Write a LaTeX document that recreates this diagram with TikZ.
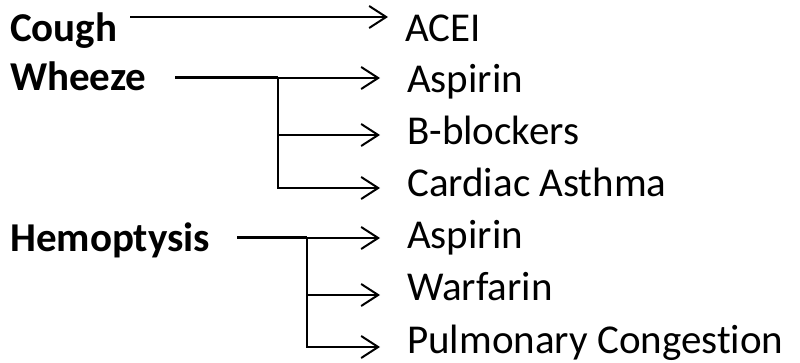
\documentclass[tikz,border=0pt]{standalone}
\usepackage{fontspec}
\setmainfont{Carlito}[Ligatures={NoCommon}]
\usetikzlibrary{arrows.meta}
\begin{document}
\begin{tikzpicture}[x=1pt,y=-1pt,
  lbl/.style={anchor=base west,inner sep=0pt,font=\fontsize{41}{48}\selectfont\bfseries},
  res/.style={anchor=base west,inner sep=0pt,font=\fontsize{41}{48}\selectfont},
  conn/.style={line width=2pt,-{Straight Barb[length=17pt,width=22pt,line width=2pt]}},
  trunk/.style={line width=3pt}]
\useasboundingbox (0,0) rectangle (800,363);
% left labels
\node[lbl] (cough) at (10,42) {Cough};
\node[lbl] (wheeze) at (10,91) {Wheeze};
\node[lbl] (hemo) at (10,252) {Hemoptysis};
% right labels
\node[res] (acei) at (405,42) {ACEI};
\node[res] (asp1) at (407,93) {Aspirin};
\node[res] (bb) at (407,145) {B-blockers};
\node[res] (card) at (407,197) {Cardiac Asthma};
\node[res] (asp2) at (407,249) {Aspirin};
\node[res] (warf) at (407,301) {Warfarin};
\node[res] (pulm) at (407,353) {Pulmonary Congestion};
% coordinates
\coordinate (c0) at (130,17);
\coordinate (c1) at (388,17);
\coordinate (w0) at (175,78);
\coordinate (wj) at (278,78);
\coordinate (w1) at (380,78);
\coordinate (wb) at (278,135);
\coordinate (wb1) at (380,135);
\coordinate (wc) at (278,188);
\coordinate (wc1) at (380,188);
\coordinate (h0) at (237,238);
\coordinate (hj) at (307,238);
\coordinate (h1) at (380,238);
\coordinate (hw) at (307,295);
\coordinate (hw1) at (380,295);
\coordinate (hp) at (307,347);
\coordinate (hp1) at (380,347);
% connectors
\draw[conn] (c0) -- (c1);
\draw[trunk] (w0) -- (wj);
\draw[conn] (wj) -- (w1);
\draw[line width=2pt] (wj) -- (wc);
\draw[conn] (wb) -- (wb1);
\draw[conn] ([xshift=-1pt]wc) -- (wc1);
\draw[trunk] (h0) -- (hj);
\draw[conn] (hj) -- (h1);
\draw[line width=2pt] (hj) -- (hp);
\draw[conn] (hw) -- (hw1);
\draw[conn] ([xshift=-1pt]hp) -- (hp1);
\end{tikzpicture}
\end{document}
